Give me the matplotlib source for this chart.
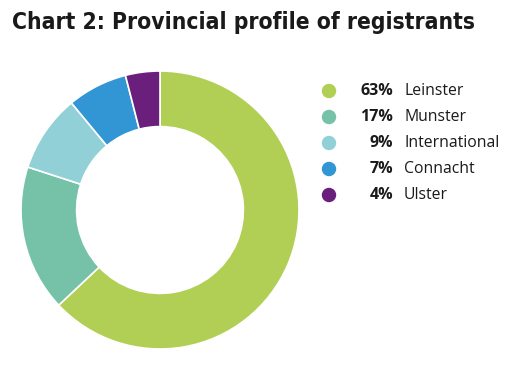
import matplotlib
matplotlib.use("Agg")
import matplotlib.pyplot as plt

categories = ["Leinster", "Munster", "International", "Connacht", "Ulster"]
values = [63, 17, 9, 7, 4]
colors = ["#b2cf55", "#76c2a8", "#92d0d8", "#3296d4", "#6a1f7d"]
title = "Chart 2: Provincial profile of registrants"

W, H = 518, 368
fig = plt.figure(figsize=(W / 100, H / 100), dpi=100)
fig.patch.set_facecolor("white")

# donut axes: center (160,210), radius ~139 px
cx, cy, r = 160, 210, 139
ax = fig.add_axes([(cx - r) / W, 1 - (cy + r) / H, 2 * r / W, 2 * r / H])
ax.pie(values, colors=colors, startangle=90, counterclock=False,
       wedgeprops=dict(width=0.40, edgecolor="white", linewidth=1.2),
       radius=1.0)
ax.set_xlim(-1, 1)
ax.set_ylim(-1, 1)
ax.set_aspect("equal")
ax.axis("off")

fig.text(12 / W, 1 - 22 / H, title, fontsize=16.4, fontweight="bold",
         fontstretch="condensed", family=["DejaVu Sans"], color="#1a1a1a",
         ha="left", va="center")

ys = [91, 117, 143, 169, 195]
for y, cat, val, col in zip(ys, categories, values, colors):
    fig.patches.append(plt.Circle((329, H - y), 6.5, color=col,
                                  transform=None, figure=fig))
    fig.text(393 / W, 1 - y / H, f"{val}%", fontsize=11.5, fontweight="bold",
             color="#1a1a1a", ha="right", va="center", family=["Open Sans"])
    fig.text(404 / W, 1 - y / H, cat, fontsize=11.3, color="#1a1a1a",
             ha="left", va="center", family=["Open Sans"])

fig.savefig("out.png", dpi=100, facecolor="white")
